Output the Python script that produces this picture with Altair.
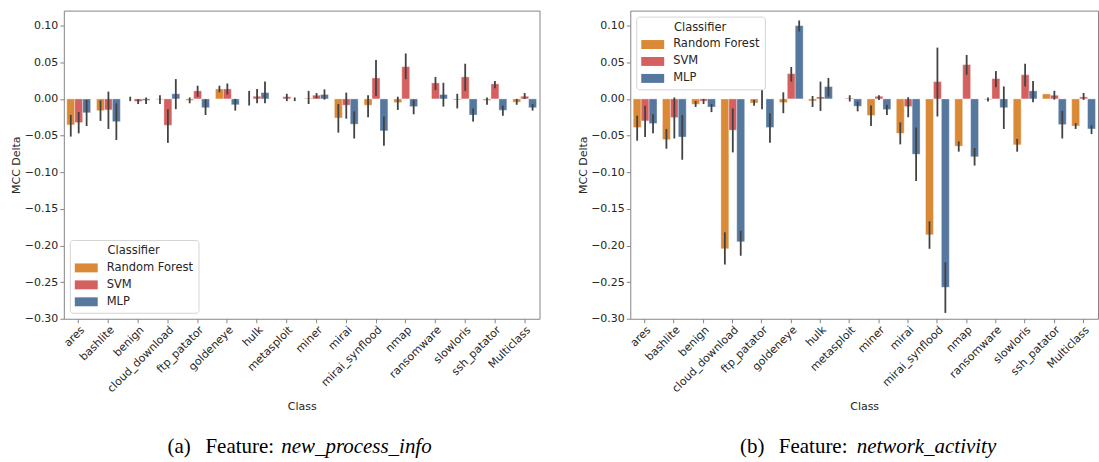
import altair as alt
import pandas as pd

classes = ["ares", "bashlite", "benign", "cloud_download", "ftp_patator", "goldeneye",
           "hulk", "metasploit", "miner", "mirai", "mirai_synflood", "nmap",
           "ransomware", "slowloris", "ssh_patator", "Multiclass"]
classifiers = ["Random Forest", "SVM", "MLP"]
colors = ["#DA8A37", "#D4605F", "#56789E"]
y_ticks = [-0.30, -0.25, -0.20, -0.15, -0.10, -0.05, 0.00, 0.05, 0.10]

# ---- (a) Feature: new_process_info ----
a_rf_mean = [-0.0355, -0.016, 0.0, -0.001, -0.002, 0.0136, 0.0, 0.0, 0.001, -0.026, -0.0086, -0.005, 0.0, -0.0014, -0.002, -0.0045]
a_rf_lo = [-0.0514, -0.030, -0.003, -0.007, -0.006, 0.009, -0.009, 0.0, -0.007, -0.046, -0.025, -0.015, 0.0, -0.013, -0.008, -0.008]
a_rf_hi = [-0.0218, -0.002, 0.003, 0.005, 0.002, 0.018, 0.011, 0.0, 0.011, -0.007, 0.005, 0.003, 0.0, 0.007, 0.002, 0.0]
a_svm_mean = [-0.0323, -0.015, -0.0035, -0.036, 0.011, 0.0136, 0.0036, 0.003, 0.005, -0.0086, 0.0286, 0.044, 0.0218, 0.030, 0.0205, 0.0036]
a_svm_lo = [-0.047, -0.041, -0.007, -0.060, 0.003, 0.006, -0.006, -0.003, 0.001, -0.027, 0.004, 0.027, 0.012, 0.011, 0.0145, 0.0]
a_svm_hi = [-0.018, 0.010, -0.0005, -0.014, 0.018, 0.021, 0.0136, 0.007, 0.008, 0.0086, 0.053, 0.062, 0.030, 0.048, 0.0245, 0.008]
a_mlp_mean = [-0.019, -0.031, -0.002, 0.007, -0.012, -0.008, 0.0086, 0.0, 0.006, -0.0345, -0.0436, -0.0105, 0.006, -0.022, -0.0155, -0.012]
a_mlp_lo = [-0.037, -0.056, -0.007, -0.014, -0.022, -0.016, -0.006, -0.003, -0.001, -0.054, -0.064, -0.021, -0.0105, -0.031, -0.023, -0.016]
a_mlp_hi = [-0.0014, -0.006, 0.002, 0.027, -0.0005, 0.0, 0.0236, 0.002, 0.013, -0.017, -0.024, -0.001, 0.022, -0.013, -0.009, -0.007]

# ---- (b) Feature: network_activity ----
b_rf_mean = [-0.039, -0.0555, -0.0073, -0.2045, -0.0055, -0.005, -0.0027, 0.0, -0.0227, -0.047, -0.1855, -0.0645, -0.001, -0.0627, 0.0068, -0.037]
b_rf_lo = [-0.057, -0.068, -0.011, -0.226, -0.0095, -0.0195, -0.011, 0.0, -0.037, -0.062, -0.2045, -0.072, -0.0036, -0.072, 0.0068, -0.041]
b_rf_hi = [-0.023, -0.041, -0.003, -0.182, -0.001, 0.009, 0.004, 0.0, -0.009, -0.032, -0.167, -0.058, 0.002, -0.0545, 0.0068, -0.033]
b_svm_mean = [-0.030, -0.0255, -0.003, -0.0427, 0.0, 0.0345, 0.0027, 0.001, 0.0036, -0.0105, 0.0236, 0.0468, 0.0277, 0.033, 0.005, 0.0027]
b_svm_lo = [-0.052, -0.054, -0.007, -0.073, -0.014, 0.0236, -0.0164, -0.0036, -0.0014, -0.025, -0.024, 0.033, 0.016, 0.017, -0.001, -0.0014]
b_svm_hi = [-0.0095, 0.002, 0.0, -0.013, 0.013, 0.0436, 0.0236, 0.005, 0.005, 0.0023, 0.070, 0.060, 0.038, 0.048, 0.011, 0.008]
b_mlp_mean = [-0.0336, -0.052, -0.011, -0.195, -0.039, 0.100, 0.0168, -0.010, -0.0145, -0.0755, -0.257, -0.079, -0.012, 0.011, -0.035, -0.041]
b_mlp_lo = [-0.047, -0.083, -0.018, -0.214, -0.060, 0.092, 0.003, -0.017, -0.022, -0.112, -0.292, -0.091, -0.041, -0.0045, -0.054, -0.048]
b_mlp_hi = [-0.021, -0.022, -0.007, -0.180, -0.0195, 0.107, 0.0286, -0.0036, -0.008, -0.039, -0.223, -0.067, 0.017, 0.0245, -0.0164, -0.036]


def make_df(series):
    rows = []
    for clf, (mean, lo, hi) in zip(classifiers, series):
        for c, m, l, h in zip(classes, mean, lo, hi):
            rows.append({"Class": c, "Classifier": clf, "Mean": m, "Lo": l, "Hi": h})
    return pd.DataFrame(rows)


df_a = make_df([(a_rf_mean, a_rf_lo, a_rf_hi), (a_svm_mean, a_svm_lo, a_svm_hi), (a_mlp_mean, a_mlp_lo, a_mlp_hi)])
df_b = make_df([(b_rf_mean, b_rf_lo, b_rf_hi), (b_svm_mean, b_svm_lo, b_svm_hi), (b_mlp_mean, b_mlp_lo, b_mlp_hi)])

PLOT_H = 309
RECT = "M-1,-0.39H1V0.39H-1Z"


def panel(df, width, legend_orient, tag, feature, cap_pos):
    x = alt.X("Class:N", sort=classes, title="Class",
              scale=alt.Scale(paddingInner=0.2, paddingOuter=0.1),
              axis=alt.Axis(labelAngle=-45, labelAlign="right", labelBaseline="top",
                            labelPadding=1, tickSize=4, minExtent=76, maxExtent=76,
                            titlePadding=6))
    xo = alt.XOffset("Classifier:N", sort=classifiers,
                     scale=alt.Scale(domain=classifiers, paddingInner=0, paddingOuter=0))
    yscale = alt.Scale(domain=[-0.30, 0.1205], nice=False, zero=False)
    yaxis = alt.Axis(values=y_ticks, format=".2f", tickSize=4, labelPadding=2,
                     labelOverlap=False, minExtent=38, maxExtent=38, titlePadding=4)
    y = alt.Y("Mean:Q", title="MCC Delta", scale=yscale, axis=yaxis)
    color = alt.Color("Classifier:N", sort=classifiers,
                      scale=alt.Scale(domain=classifiers, range=colors),
                      legend=alt.Legend(title="Classifier", orient=legend_orient, offset=6,
                                        fillColor="white", strokeColor="#d4d4d4",
                                        cornerRadius=3, padding=5, titleAnchor="middle",
                                        titleFontWeight="normal", titleFontSize=11.5,
                                        titlePadding=0, labelFontSize=11.5, labelOffset=9,
                                        symbolType=RECT, symbolSize=529,
                                        symbolStrokeWidth=0, symbolOpacity=1,
                                        rowPadding=-2.5))
    base = alt.Chart(df)
    bars = base.mark_bar(stroke="white", strokeWidth=0.8, strokeOpacity=0.45, opacity=1).encode(
        x=x, xOffset=xo, y=y, y2=alt.datum(0), color=color)
    errs = base.mark_rule(color="#424242", strokeWidth=1.8).encode(
        x=x, xOffset=xo, y=alt.Y("Lo:Q", title="MCC Delta", scale=yscale, axis=yaxis),
        y2="Hi:Q")
    cap = pd.DataFrame({"t": [0]})
    c1 = alt.Chart(cap).mark_text(font="Liberation Serif", fontSize=21, align="left",
                                   baseline="middle", color="black").encode(
        x=alt.value(cap_pos[0]), y=alt.value(438), text=alt.value(tag))
    c2 = alt.Chart(cap).mark_text(font="Liberation Serif", fontSize=21, align="left",
                                   baseline="middle", color="black").encode(
        x=alt.value(cap_pos[1]), y=alt.value(438), text=alt.value("Feature:"))
    c3 = alt.Chart(cap).mark_text(font="Liberation Serif", fontSize=21, fontStyle="italic",
                                   align="left", baseline="middle", color="black").encode(
        x=alt.value(cap_pos[2]), y=alt.value(438), text=alt.value(feature))
    return alt.layer(bars, errs, c1, c2, c3).properties(width=width, height=PLOT_H)


left = panel(df_a, 477, "bottom-left", "(a)", "new_process_info", (104, 142, 218))
right = panel(df_b, 469, "top-left", "(b)", "network_activity", (110, 149, 227))

chart = alt.hconcat(left, right, spacing=36).resolve_scale(
    x="independent", y="independent", color="independent"
).resolve_legend(color="independent").properties(
    padding={"left": 10, "top": 9, "right": 0, "bottom": 0}
).configure_view(stroke="#858585", strokeWidth=1).configure_axis(
    grid=False, domain=False, labelFont="DejaVu Sans", titleFont="DejaVu Sans",
    labelFontSize=11, titleFontSize=11, labelColor="#262626", titleColor="#262626",
    titleFontWeight="normal", tickColor="#858585"
).configure_legend(labelFont="DejaVu Sans", titleFont="DejaVu Sans",
                   labelColor="#262626", titleColor="#262626")

chart.save("out.html", embed_options={"renderer": "svg", "actions": False})
